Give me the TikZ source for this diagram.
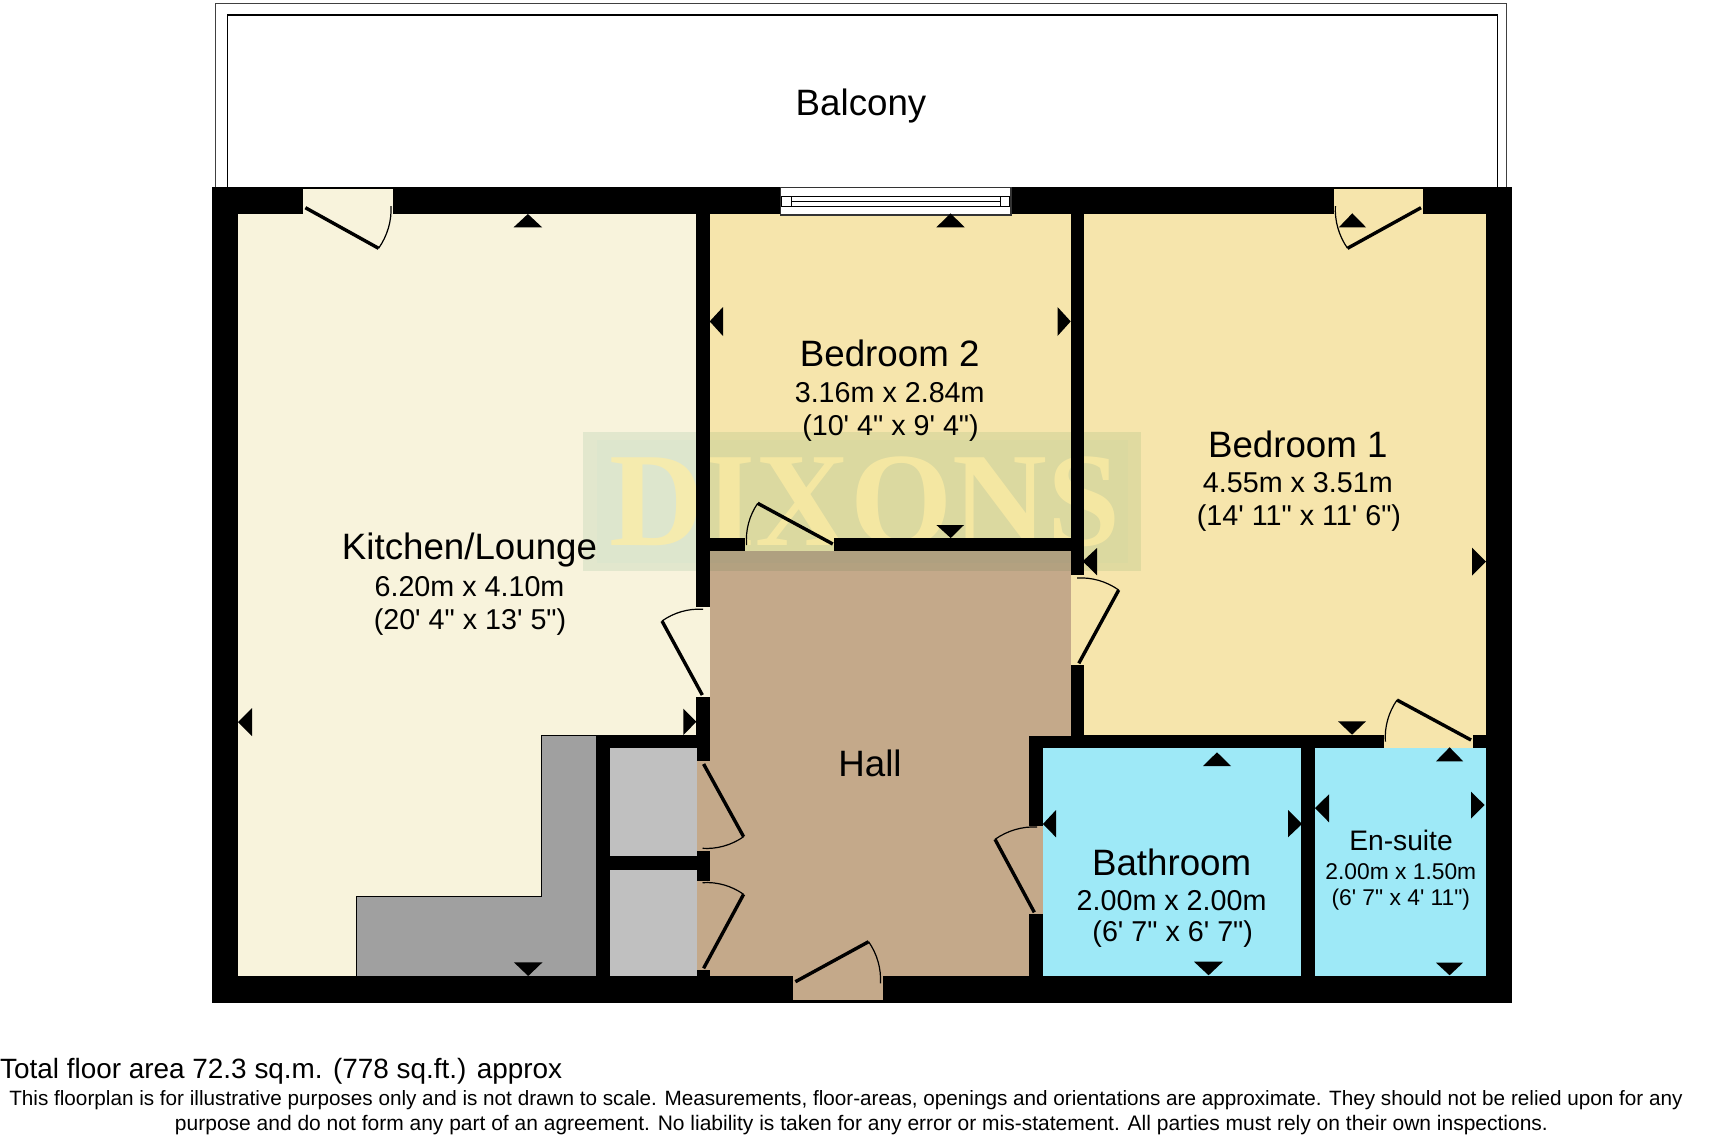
\documentclass[tikz,border=0pt]{standalone}
\usepackage{fontspec}
\usetikzlibrary{calc}
\newfontfamily\lib{Liberation Sans}
\newfontfamily\libserif{Liberation Serif}
\definecolor{kitchenc}{HTML}{F8F3DC}
\definecolor{bedc}{HTML}{F6E5AC}
\definecolor{hallc}{HTML}{C4A98A}
\definecolor{bathc}{HTML}{9EE9F7}
\definecolor{cupc}{HTML}{C0C0C0}
\definecolor{unitc}{HTML}{A0A0A0}
\definecolor{markouter}{HTML}{E9F3EE}
\definecolor{markinner}{HTML}{FAFEFF}
\definecolor{marky}{HTML}{FFEDA3}
\tikzset{
  lbl/.style={inner sep=0pt,anchor=base,text=black},
  lname/.style={lbl,font=\lib\fontsize{36.7}{37}\selectfont},
  lsize/.style={lbl,font=\lib\fontsize{28.7}{29}\selectfont},
  sname/.style={lbl,font=\lib\fontsize{28.2}{29}\selectfont},
  ssize/.style={lbl,font=\lib\fontsize{22.8}{23}\selectfont},
  leaf/.style={draw=black,line width=3.4pt},
  swing/.style={draw=black,line width=1.2pt},
  tri/.style={fill=black,draw=none},
}
\newcommand{\doorswing}[6]{%
  \draw[leaf] (#1,#2) -- (#3,#4);
  \draw[swing] (#3,#4) .. controls ($(#1,#2)!1.06!($(#3,#4)!.3333!(#5,#6)$)$) and ($(#1,#2)!1.06!($(#3,#4)!.6667!(#5,#6)$)$) .. (#5,#6);
}
\begin{document}
\begin{tikzpicture}[x=1pt,y=-1pt]
\useasboundingbox (0,0) rectangle (1720,1136);
\fill[white] (0,0) rectangle (1720,1136);
% balcony
\draw[line width=1.3pt,black!75] (215.7,187) -- (215.7,3.3) -- (1506.5,3.3) -- (1506.5,187);
\draw[line width=1.3pt,black] (227.5,187) -- (227.5,15) -- (1497.5,15) -- (1497.5,187);
% outer wall block
\fill[black] (212,187.3) rectangle (1511.5,1002.5);
% kitchen
\fill[kitchenc] (238,214) rectangle (696.4,735);
\fill[kitchenc] (238,735) rectangle (596.4,976);
\fill[kitchenc] (303.2,189.3) rectangle (392.9,214.5);
\fill[kitchenc] (696,606.7) rectangle (709.5,696.7);
% bedroom 2
\fill[bedc] (709.5,214) rectangle (1070.8,538);
\fill[bedc] (745,537.5) rectangle (834.4,551.3);
% bedroom 1
\fill[bedc] (1083.9,214) rectangle (1485.5,734.7);
\fill[bedc] (1334,189.3) rectangle (1422.6,214.5);
\fill[bedc] (1070.5,575.3) rectangle (1084.2,665.3);
\fill[bedc] (1383.6,734.3) rectangle (1473,748.5);
% hall
\fill[hallc] (709.5,551.3) rectangle (1070.8,735.5);
\fill[hallc] (709.5,735) rectangle (1029,976);
\fill[hallc] (696.5,761) rectangle (709.8,850.7);
\fill[hallc] (696.5,880.7) rectangle (709.8,970);
\fill[hallc] (793.2,975.5) rectangle (882.5,1000);
\fill[hallc] (1028.7,825.7) rectangle (1043,914.3);
% cupboards
\fill[cupc] (609.6,748.3) rectangle (697,856);
\fill[cupc] (609.6,870.3) rectangle (697,976);
% bathrooms
\fill[bathc] (1043,748.3) rectangle (1301.4,975.5);
\fill[bathc] (1315,748.3) rectangle (1485.5,975.5);
% kitchen unit
\draw[fill=unitc,draw=black,line width=1pt] (356.8,976) -- (356.8,896.7) -- (541.8,896.7) -- (541.8,735) -- (596.4,735) -- (596.4,976) -- cycle;
% watermark
\begin{scope}[blend mode=multiply]
\fill[markouter] (582.9,432.3) rectangle (1140.5,570.7);
\fill[markinner] (597,440) rectangle (1128,563);
\end{scope}
\node[inner sep=0pt,anchor=base,opacity=.72,text=marky,font=\libserif\bfseries\fontsize{134}{134}\selectfont] (dixons) at (865,545.7) {\scalebox{.98}[1]{DIXONS}};
% walls repainted above the watermark
\fill[black] (696.4,432) rectangle (709.5,570.9);
\fill[black] (709,538) rectangle (745,551.3);
\fill[black] (834.4,538) rectangle (1071,551.3);
\fill[black] (1070.8,432) rectangle (1083.9,575.3);
% window
\draw[fill=white,draw=black!80,line width=1.2pt] (780.4,187.3) rectangle (1011,215);
\draw[draw=black,line width=1pt] (781.8,196.7) rectangle (1009.6,206);
\draw[draw=black,line width=1pt] (791,196.7) -- (791,206);
\draw[draw=black,line width=1pt] (1000,196.7) -- (1000,206);
\draw[draw=black,line width=1pt] (791,201.3) -- (1000,201.3);
% doors
\doorswing{305.4}{207.7}{378.6}{248.3}{391}{206}
\doorswing{1421}{207.7}{1347.5}{248.3}{1335.4}{206}
\doorswing{702.3}{695}{662}{621}{703.1}{609.3}
\doorswing{832.8}{544}{757.7}{503.3}{746.6}{545}
\doorswing{1078.8}{663.3}{1118.7}{590}{1077.2}{578}
\doorswing{703.6}{764}{743.6}{836.7}{702.5}{848.3}
\doorswing{703.6}{968.3}{743.6}{894.3}{702.5}{882.7}
\doorswing{795.4}{981.7}{868.6}{941.7}{880.4}{983.3}
\doorswing{1034.3}{912.3}{995}{839.3}{1037}{827}
\doorswing{1471}{740}{1397}{700}{1385.4}{741.7}
% orientation markers
\fill[tri] (527.9,214) -- (513.6,227.3) -- (542.1,227.3) -- cycle;
\fill[tri] (950.5,213.3) -- (936.4,227.3) -- (964.6,227.3) -- cycle;
\fill[tri] (1352.3,213.3) -- (1338.8,227.3) -- (1366,227.3) -- cycle;
\fill[tri] (709.7,321.4) -- (723,307) -- (723,336) -- cycle;
\fill[tri] (1070.7,321.4) -- (1057.5,307) -- (1057.5,336) -- cycle;
\fill[tri] (950.7,538) -- (936.4,525) -- (964,525) -- cycle;
\fill[tri] (1082.7,561.3) -- (1097,548) -- (1097,575.3) -- cycle;
\fill[tri] (1486,561.7) -- (1472,547.7) -- (1472,575.7) -- cycle;
\fill[tri] (238,722) -- (252,708) -- (252,736) -- cycle;
\fill[tri] (696.4,721.7) -- (683.4,708.7) -- (683.4,735) -- cycle;
\fill[tri] (528.2,976) -- (513.9,962.3) -- (542.5,962.3) -- cycle;
\fill[tri] (1352,734.7) -- (1338,721.3) -- (1366,721.3) -- cycle;
\fill[tri] (1217,752.3) -- (1203,766) -- (1231,766) -- cycle;
\fill[tri] (1449.6,747.3) -- (1436,761.3) -- (1463.2,761.3) -- cycle;
\fill[tri] (1042.9,824) -- (1056,810) -- (1056,837.3) -- cycle;
\fill[tri] (1302,824) -- (1288,810) -- (1288,837.3) -- cycle;
\fill[tri] (1315,808) -- (1329,794.3) -- (1329,822.3) -- cycle;
\fill[tri] (1484.6,805) -- (1471,791.7) -- (1471,818.7) -- cycle;
\fill[tri] (1208.6,975.3) -- (1194,961.7) -- (1222.9,961.7) -- cycle;
\fill[tri] (1449.6,975.3) -- (1436,962.7) -- (1463,962.7) -- cycle;
% labels
\node[lname] (balcony) at (861,115) {Balcony};
\node[lname] (kname) at (469.5,559.5) {Kitchen/Lounge};
\node[lsize] (ksize) at (469.5,596.5) {6.20m x 4.10m};
\node[lsize] (kimp) at (470,629) {(20' 4" x 13' 5")};
\node[lname] (b2name) at (889.7,366) {Bedroom 2};
\node[lsize] (b2size) at (889.7,402) {3.16m x 2.84m};
\node[lsize] (b2imp) at (890.5,435) {(10' 4" x 9' 4")};
\node[lname] (b1name) at (1297.8,457) {Bedroom 1};
\node[lsize] (b1size) at (1297.8,492) {4.55m x 3.51m};
\node[lsize] (b1imp) at (1299,525) {(14' 11" x 11' 6")};
\node[lname] (hall) at (870,776) {Hall};
\node[lname] (bathname) at (1171.6,875) {Bathroom};
\node[lsize] (bathsize) at (1171.6,910) {2.00m x 2.00m};
\node[lsize] (bathimp) at (1172.7,941.7) {(6' 7" x 6' 7")};
\node[sname] (ensname) at (1401,850.7) {En-suite};
\node[ssize] (enssize) at (1400.8,879.3) {2.00m x 1.50m};
\node[ssize] (ensimp) at (1400.8,905.7) {(6' 7" x 4' 11")};
% footer
\node[lbl,anchor=base west,font=\lib\fontsize{27.9}{28}\selectfont] (area) at (0,1078) {Total floor area 72.3 sq.m. (778 sq.ft.) approx};
\node[lbl,font=\lib\fontsize{20.7}{21}\selectfont] (disc1) at (846,1105) {This floorplan is for illustrative purposes only and is not drawn to scale. Measurements, floor-areas, openings and orientations are approximate. They should not be relied upon for any};
\node[lbl,font=\lib\fontsize{21}{21}\selectfont] (disc2) at (861.5,1130) {purpose and do not form any part of an agreement. No liability is taken for any error or mis-statement. All parties must rely on their own inspections.};
\end{tikzpicture}
\end{document}
